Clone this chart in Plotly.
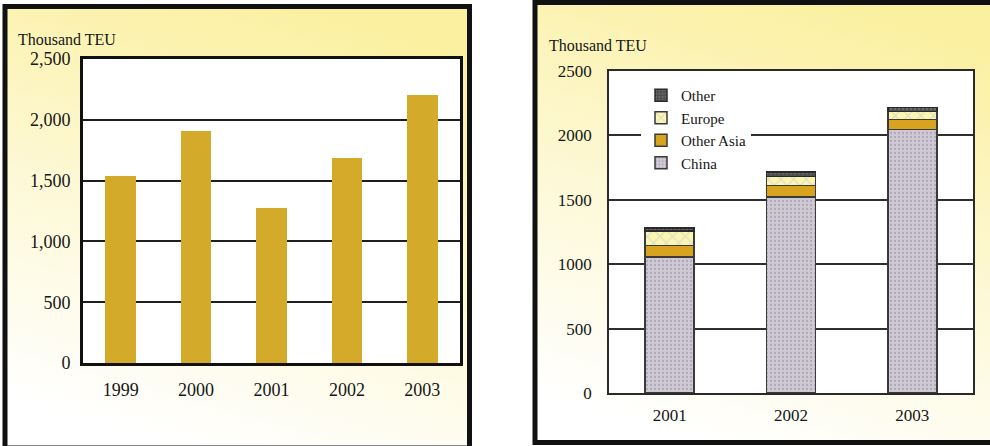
import base64
import plotly.graph_objects as go

# ---- data -------------------------------------------------------------
years_all = ["1999", "2000", "2001", "2002", "2003"]
total_teu = [1535, 1910, 1277, 1683, 2200]

years_split = ["2001", "2002", "2003"]
china = [1055, 1520, 2045]
other_asia = [92, 92, 80]
europe = [110, 70, 62]
other = [23, 34, 31]

left_tickvals = [0, 500, 1000, 1500, 2000, 2500]
right_tickvals = [0, 500, 1000, 1500, 2000, 2500]

W, H = 990, 446
SERIF = "Liberation Serif, Times New Roman, serif"
INK = "#161616"


def px_x(v):
    return v / W


def px_y(v):
    return 1 - v / H


def gradient_uri(top, mid, bottom):
    svg = (
        '<svg xmlns="http://www.w3.org/2000/svg" width="100" height="100" '
        'viewBox="0 0 100 100" preserveAspectRatio="none">'
        '<defs><linearGradient id="g" x1="0.65" y1="0" x2="0.35" y2="1">'
        f'<stop offset="0" stop-color="{top}"/>'
        f'<stop offset="0.5" stop-color="{mid}"/>'
        f'<stop offset="1" stop-color="{bottom}"/>'
        '</linearGradient></defs>'
        '<rect width="100" height="100" fill="url(#g)"/></svg>'
    )
    return "data:image/svg+xml;base64," + base64.b64encode(svg.encode()).decode()


fig = go.Figure()

# left panel: total throughput
fig.add_trace(go.Bar(
    x=years_all, y=total_teu, xaxis="x", yaxis="y",
    marker=dict(color="#d4aa2a", line=dict(width=0)),
    showlegend=False, hoverinfo="x+y",
))

# right panel: stacked by origin
stack = [
    ("China", china, dict(color="#cbc5d1", line=dict(color="#3a3a3a", width=1.5),
                          pattern=dict(shape=".", fgcolor="#8e8799", bgcolor="#cfc9d5",
                                       size=4, solidity=0.25))),
    ("Other Asia", other_asia, dict(color="#d8a41f", line=dict(color="#3a3a3a", width=1.5))),
    ("Europe", europe, dict(color="#fbf7b0", line=dict(color="#3a3a3a", width=1.5),
                            pattern=dict(shape="x", fgcolor="#c2bcd6", bgcolor="#fbf7b0",
                                         size=9, solidity=0.25))),
    ("Other", other, dict(color="#555555", line=dict(color="#2a2a2a", width=1.5),
                          pattern=dict(shape=".", fgcolor="#8a8a8a", bgcolor="#4e4e4e",
                                       size=4, solidity=0.3))),
]
for name, vals, marker in stack:
    fig.add_trace(go.Bar(
        x=years_split, y=vals, name=name, xaxis="x2", yaxis="y2",
        marker=marker,
    ))

# plot-area geometry (pixels)
L_X0, L_X1, L_Y0, L_Y1 = 83, 460, 59, 363
R_X0, R_X1, R_Y0, R_Y1 = 609, 973, 71, 393

axis_font = dict(family=SERIF, size=18, color=INK)
axis_font_r = dict(family=SERIF, size=17, color=INK)

fig.update_layout(
    width=W, height=H,
    margin=dict(l=0, r=0, t=0, b=0, pad=0, autoexpand=False),
    paper_bgcolor="white",
    plot_bgcolor="white",
    barmode="stack",
    bargap=0.595,
    font=dict(family=SERIF, color=INK),
    xaxis=dict(
        domain=[px_x(L_X0), px_x(L_X1)], anchor="y", type="category",
        showline=True, mirror=True, linecolor="#111111", linewidth=3,
        showgrid=False, ticks="", tickfont=axis_font, ticklabelstandoff=8,
    ),
    yaxis=dict(
        domain=[px_y(L_Y1), px_y(L_Y0)], anchor="x", range=[0, 2500],
        tickvals=left_tickvals, tickformat=",d",
        showline=True, mirror=True, linecolor="#111111", linewidth=3,
        showgrid=True, gridcolor="#1e1e1e", gridwidth=2, zeroline=False,
        ticks="", tickfont=axis_font, ticklabelstandoff=6,
    ),
    xaxis2=dict(
        domain=[px_x(R_X0), px_x(R_X1)], anchor="y2", type="category",
        showline=True, mirror=True, linecolor="#2a2a2a", linewidth=1.5,
        showgrid=False, ticks="", tickfont=axis_font_r, ticklabelstandoff=6,
    ),
    yaxis2=dict(
        domain=[px_y(R_Y1), px_y(R_Y0)], anchor="x2", range=[0, 2500],
        tickvals=right_tickvals, tickformat="d",
        showline=True, mirror=True, linecolor="#2a2a2a", linewidth=1.5,
        showgrid=True, gridcolor="#2e2e2e", gridwidth=1.5, zeroline=False,
        ticks="", tickfont=axis_font_r, ticklabelstandoff=12,
    ),
    legend=dict(
        x=px_x(641), y=px_y(79), xanchor="left", yanchor="top",
        traceorder="reversed", bgcolor="white", borderwidth=0,
        font=dict(family=SERIF, size=15, color=INK),
        itemclick=False, itemdoubleclick=False,
    ),
    showlegend=True,
)

# panel backgrounds
for x0, y0, x1, y1 in ((5, 7, 470, 444), (535, 2, 990, 442)):
    fig.add_layout_image(dict(
        source=gradient_uri("#fbf0a0", "#fdf8d4", "#ffffff"),
        xref="paper", yref="paper", x=px_x(x0), y=px_y(y0),
        sizex=(x1 - x0) / W, sizey=(y1 - y0) / H,
        sizing="stretch", xanchor="left", yanchor="top", layer="below",
    ))

# white plotting areas over the tinted panels
for xr, yr in (("x domain", "y domain"), ("x2 domain", "y2 domain")):
    fig.add_shape(type="rect", xref=xr, yref=yr, x0=0, x1=1, y0=0, y1=1,
                  fillcolor="white", line=dict(width=0), layer="below")

# panel frames
fig.add_shape(type="rect", xref="paper", yref="paper",
              x0=px_x(5), x1=px_x(469.5), y0=px_y(448), y1=px_y(6.5),
              line=dict(color="#111111", width=5), fillcolor="rgba(0,0,0,0)",
              layer="above")
fig.add_shape(type="rect", xref="paper", yref="paper",
              x0=px_x(535), x1=px_x(1000), y0=px_y(442.5), y1=px_y(2.5),
              line=dict(color="#111111", width=5), fillcolor="rgba(0,0,0,0)",
              layer="above")

# unit labels
fig.add_annotation(text="Thousand TEU", xref="paper", yref="paper",
                   x=px_x(16), y=px_y(39), xanchor="left", yanchor="middle",
                   showarrow=False, font=dict(family=SERIF, size=16, color=INK))
fig.add_annotation(text="Thousand TEU", xref="paper", yref="paper",
                   x=px_x(547), y=px_y(46), xanchor="left", yanchor="middle",
                   showarrow=False, font=dict(family=SERIF, size=16, color=INK))

fig.write_html("out.html")
